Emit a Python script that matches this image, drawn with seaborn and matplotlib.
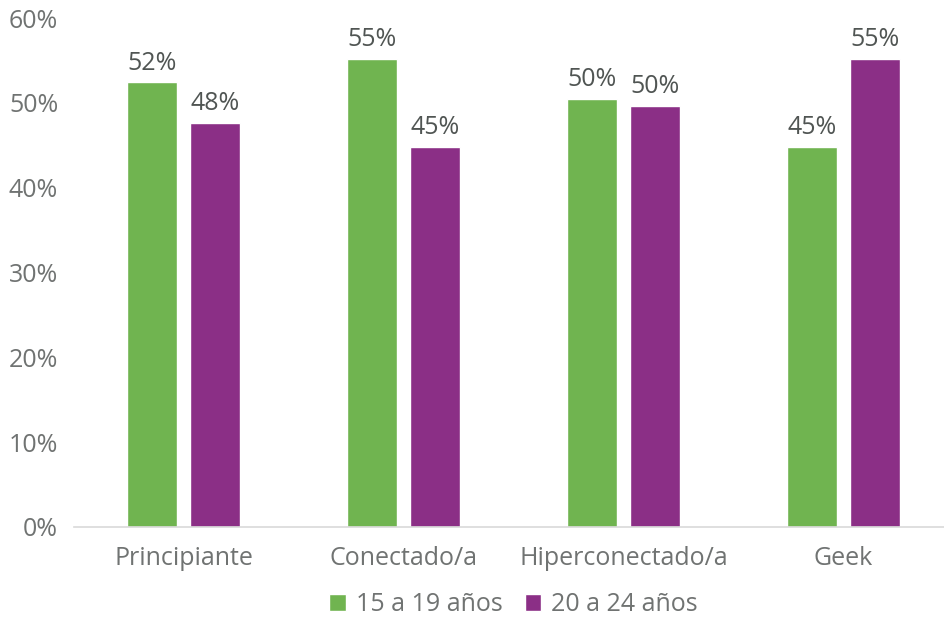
import matplotlib
matplotlib.use("Agg")
import matplotlib.pyplot as plt
import seaborn as sns
import pandas as pd
from matplotlib.ticker import PercentFormatter

categories = ["Principiante", "Conectado/a", "Hiperconectado/a", "Geek"]
series_names = ["15 a 19 años", "20 a 24 años"]
values_15_19 = [0.524, 0.552, 0.504, 0.448]
values_20_24 = [0.476, 0.448, 0.496, 0.552]
y_ticks = [0.0, 0.1, 0.2, 0.3, 0.4, 0.5, 0.6]

colors = ["#70B450", "#8B2F86"]
tick_color = "#707372"
label_color = "#505553"
fs = 18

df = pd.DataFrame({
    "categoria": categories * 2,
    "grupo": [series_names[0]] * len(categories) + [series_names[1]] * len(categories),
    "valor": values_15_19 + values_20_24,
})

sns.set_theme(style="white")
plt.rcParams["font.family"] = ["Open Sans", "DejaVu Sans"]

fig = plt.figure(figsize=(9.44, 6.19), dpi=100)
W, H = 944, 619
ax = fig.add_axes([73.5 / W, 92 / H, 880 / W, 509 / H])

sns.barplot(data=df, x="categoria", y="valor", hue="grupo", order=categories,
            hue_order=series_names, palette=colors, width=0.573, gap=0.222,
            saturation=1, ax=ax, legend=True)

for cont in ax.containers:
    ax.bar_label(cont, labels=[f"{b.get_height() * 100:.0f}%" for b in cont],
                 padding=5, fontsize=fs, color=label_color)

ax.set_xlim(-0.5, 3.5)
ax.set_ylim(0, 0.6)
ax.set_yticks(y_ticks)
ax.yaxis.set_major_formatter(PercentFormatter(1.0, decimals=0))
ax.set_xlabel("")
ax.set_ylabel("")
ax.tick_params(axis="both", length=0, labelsize=fs, colors=tick_color)
ax.tick_params(axis="x", pad=14)
ax.tick_params(axis="y", pad=11)

for side in ["top", "right", "left"]:
    ax.spines[side].set_visible(False)
ax.spines["bottom"].set_color("#D9D9D9")
ax.spines["bottom"].set_linewidth(1.2)

leg = ax.legend(loc="center", bbox_to_anchor=(0.5, -0.153), ncol=2, frameon=False,
                fontsize=fs, handlelength=0.65, handleheight=0.65,
                handletextpad=0.4, columnspacing=0.9)
for t in leg.get_texts():
    t.set_color(tick_color)

fig.savefig("out.png", dpi=100)
